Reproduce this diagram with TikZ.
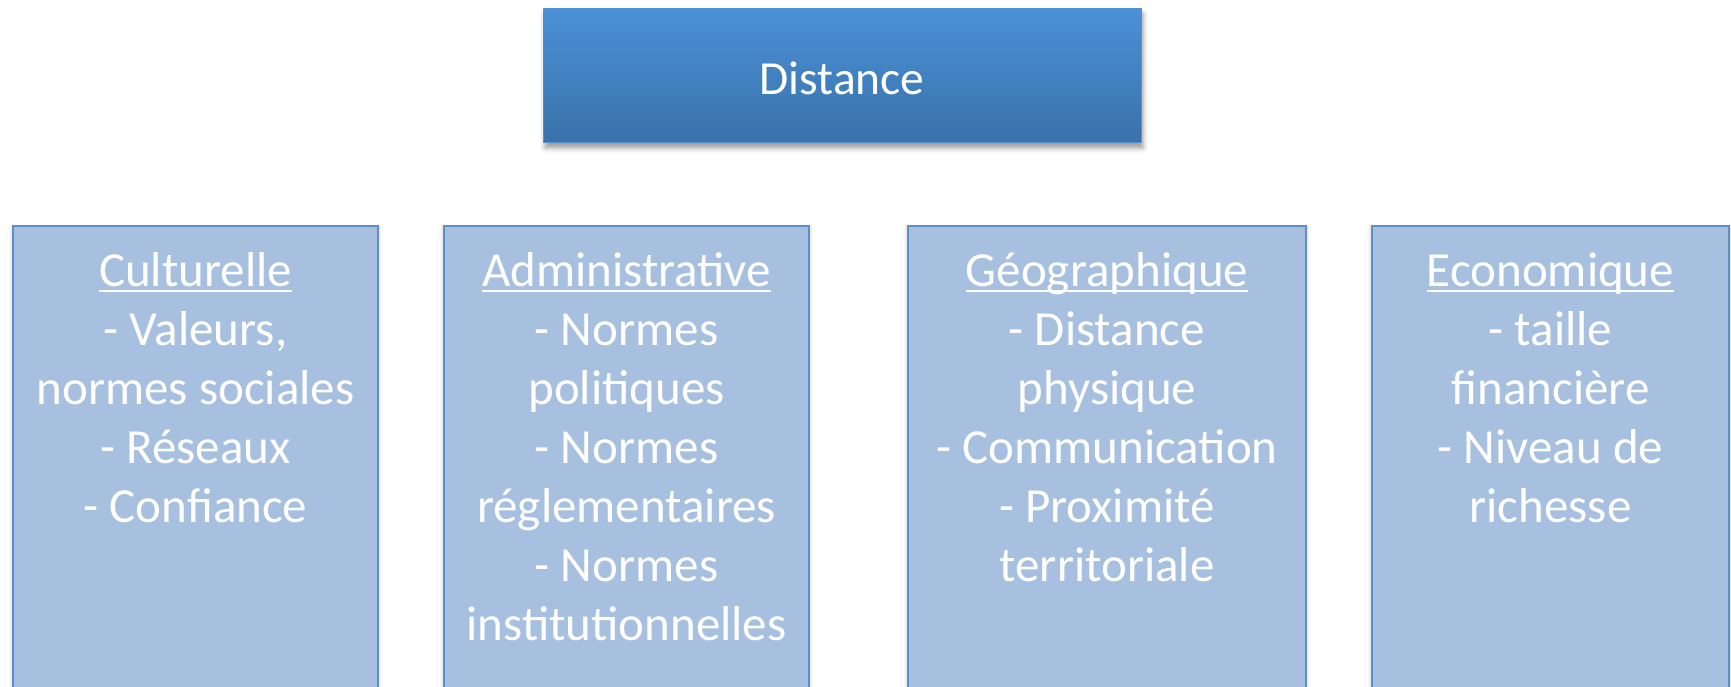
\documentclass[tikz,border=0pt]{standalone}
\usepackage{fontspec}
\setmainfont{Carlito}
\usepackage{tikz}
\usetikzlibrary{shadows.blur,positioning}

\definecolor{topblue}{RGB}{74,145,214}
\definecolor{botblue}{RGB}{57,113,170}
\definecolor{topline}{RGB}{86,146,210}
\definecolor{catfill}{RGB}{167,192,223}
\definecolor{catline}{RGB}{94,142,202}

\newsavebox{\titlebox}
\newcommand{\cattitle}[1]{\sbox{\titlebox}{#1}\rlap{\rule[-6pt]{\wd\titlebox}{2.4pt}}\usebox{\titlebox}}

\tikzset{
  topbox/.style={draw=topline, line width=1pt, top color=topblue, bottom color=botblue,
    minimum width=598pt, minimum height=134pt, text=white,
    font=\fontsize{47.5}{57}\selectfont, text height=38pt, text depth=0pt,
    blur shadow={shadow xshift=2pt, shadow yshift=-5pt, shadow blur radius=5pt, shadow opacity=40}},
  catbox/.style={draw=catline, line width=2pt, fill=catfill, anchor=north, minimum height=500pt,
    blur shadow={shadow xshift=0pt, shadow yshift=-2pt, shadow blur radius=4pt, shadow opacity=30}},
  cattext/.style={text=white, align=center, inner sep=0pt, font=\fontsize{49}{59}\selectfont}
}

\begin{document}
\begin{tikzpicture}[x=1pt,y=1pt]
            \useasboundingbox (0,0) rectangle (1731,687);
            \clip (0,0) rectangle (1731,687);
            \node[topbox] (dist) at (842,611) {Distance};
            \node[catbox, minimum width=365pt] (cult) at (195.5,462) {};
            \node[catbox, minimum width=365pt] (admin) at (626.5,462) {};
            \node[catbox, minimum width=398pt] (geo) at (1107,462) {};
            \node[catbox, minimum width=357pt] (eco) at (1550.5,462) {};
            \node[cattext, below=20pt of cult.north] (culttxt) {\strut\cattitle{Culturelle}\\- Valeurs,\\normes sociales\\- Réseaux\\- Confiance};
            \node[cattext, below=20pt of admin.north] (admintxt) {\strut\cattitle{Administrative}\\- Normes\\politiques\\- Normes\\réglementaires\\- Normes\\institutionnelles};
            \node[cattext, below=20pt of geo.north] (geotxt) {\strut\cattitle{Géographique}\\- Distance\\physique\\- Communication\\- Proximité\\territoriale};
            \node[cattext, below=20pt of eco.north] (ecotxt) {\strut\cattitle{Economique}\\- taille\\financière\\- Niveau de\\richesse};
        \end{tikzpicture}
\end{document}
